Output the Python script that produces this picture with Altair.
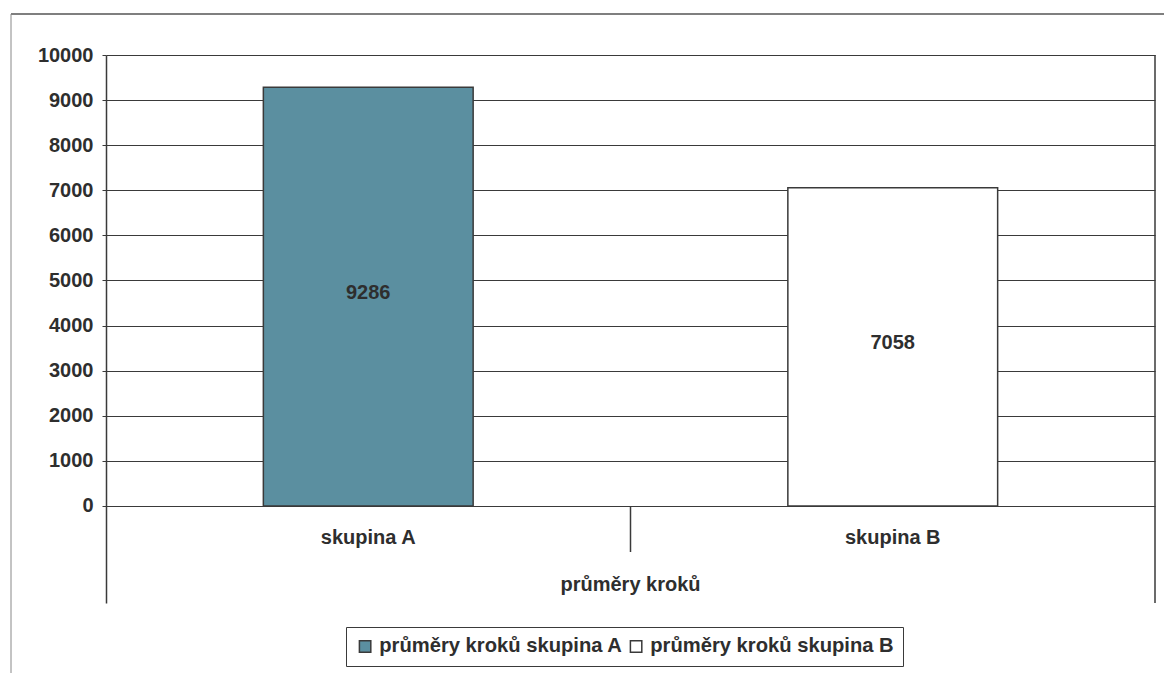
import altair as alt
import pandas as pd

# Data
categories = ["skupina A", "skupina B"]
values = [9286, 7058]
series = ["průměry kroků skupina A", "průměry kroků skupina B"]
fills = ["#5b8fa0", "#ffffff"]
group_label = "průměry kroků"
y_ticks = list(range(0, 10001, 1000))

# Layout (plot area in pixels)
W, H = 1049, 548
PAD = {"left": 106, "top": 55, "right": 9, "bottom": 70}
FONT = "Liberation Sans"
INK = "#2e2e2e"
LINE = "#3a3a3a"

df = pd.DataFrame({"category": categories, "value": values, "series": series})

x = alt.X("category:N", sort=categories,
          scale=alt.Scale(paddingInner=0.6, paddingOuter=0.3), axis=None)
y_scale = alt.Scale(domain=[-2151, 10000], nice=False, zero=False)

base = alt.Chart(df)

bars = base.mark_bar(stroke=LINE, strokeWidth=1.5, opacity=1).encode(
    x=x,
    y=alt.Y("value:Q", scale=y_scale,
            axis=alt.Axis(values=y_ticks, title=None, grid=True, format="d",
                          gridColor=LINE, gridWidth=1,
                          domainColor=LINE, domainWidth=1.5,
                          tickColor=LINE, tickSize=4,
                          labelFont=FONT, labelFontSize=20,
                          labelFontWeight="bold", labelColor=INK,
                          labelPadding=9)),
    y2=alt.datum(0),
    fill=alt.Fill("series:N",
                  scale=alt.Scale(domain=series, range=fills),
                  legend=alt.Legend(
                      orient="none", legendX=240, legendY=572,
                      direction="horizontal", title=None,
                      strokeColor=LINE, fillColor="white", padding=9,
                      labelFont=FONT, labelFontSize=20.2,
                      labelFontWeight="bold", labelColor=INK,
                      labelLimit=500, labelOffset=4, columnPadding=3,
                      symbolType="square", symbolSize=130,
                      symbolStrokeColor=LINE, symbolStrokeWidth=1.5,
                      symbolOpacity=1)),
    stroke=alt.Stroke("series:N", scale=alt.Scale(domain=series, range=[LINE, LINE]),
                      legend=None),
)

value_labels = base.transform_calculate(mid="datum.value / 2").mark_text(
    font=FONT, fontSize=20, fontWeight="bold", color=INK,
    baseline="middle", dy=-4
).encode(x=x, y=alt.Y("mid:Q", scale=y_scale), text="value:Q")

cat_labels = base.mark_text(
    font=FONT, fontSize=20, fontWeight="bold", color=INK,
    baseline="middle", dy=32
).encode(x=x, y=alt.datum(0, scale=y_scale), text="category:N")

group_df = pd.DataFrame({"label": [group_label]})
group_text = alt.Chart(group_df).mark_text(
    font=FONT, fontSize=20, fontWeight="bold", color=INK,
    baseline="middle", dy=79
).encode(x=alt.value(W / 2), y=alt.datum(0, scale=y_scale), text="label:N")

# Frame lines: right edge of the plot and the category divider
right_edge = alt.Chart(group_df).mark_rule(color=LINE, strokeWidth=1.5).encode(
    x=alt.value(W), y=alt.value(0), y2=alt.value(H))
divider = alt.Chart(group_df).mark_rule(color=LINE, strokeWidth=1.5).encode(
    x=alt.value(W / 2), y=alt.datum(0, scale=y_scale), y2=alt.value(497))

# Outer chart border (top and left)
border_top = alt.Chart(group_df).mark_rule(color="#555", strokeWidth=1.5).encode(
    x=alt.value(-95), x2=alt.value(W + PAD["right"]), y=alt.value(-41))
border_left = alt.Chart(group_df).mark_rule(color="#888", strokeWidth=1).encode(
    x=alt.value(-95), y=alt.value(-41), y2=alt.value(H + PAD["bottom"]))

chart = alt.layer(
    bars, value_labels, cat_labels, group_text,
    right_edge, divider, border_top, border_left
).properties(
    width=W, height=H,
    autosize=alt.AutoSizeParams(type="none"),
    padding=PAD,
    background="white",
).configure_view(stroke=None)

chart.save("out.html", embed_options={"renderer": "svg", "actions": False})
